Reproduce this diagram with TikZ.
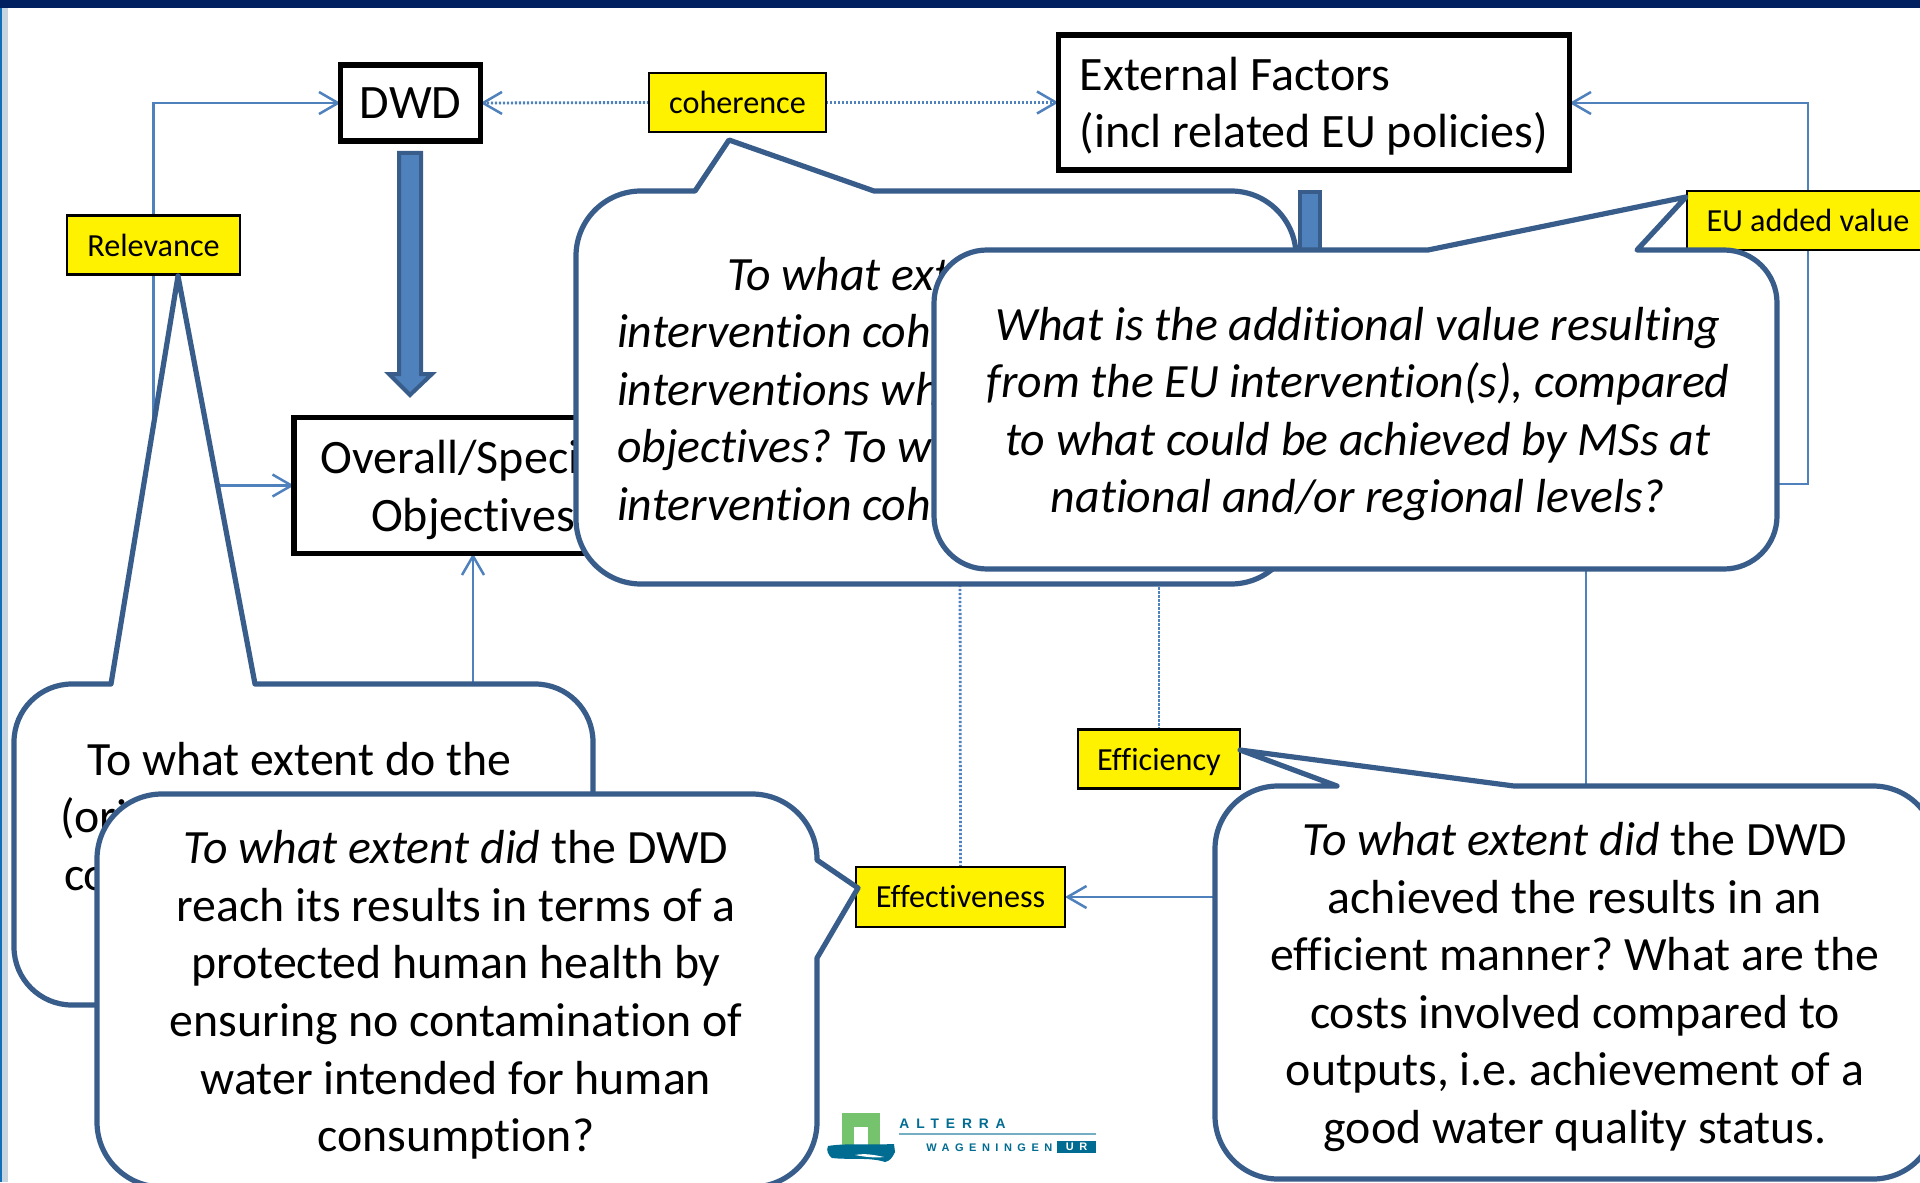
\documentclass[tikz,border=0pt]{standalone}
\usepackage{fontspec}
\setmainfont{Carlito}[Ligatures=NoCommon]
\newfontfamily\logofont[LetterSpace=50,Scale=1]{Liberation Sans}
\usetikzlibrary{arrows.meta}
\definecolor{topnavy}{HTML}{002060}
\definecolor{sidebar}{HTML}{0F6FB8}
\definecolor{sidepale}{HTML}{C6D4E0}
\definecolor{linkblue}{HTML}{4F81BD}
\definecolor{edgeblue}{HTML}{385D8A}
\definecolor{logoteal}{HTML}{006C91}
\definecolor{logogreen}{HTML}{76C36E}
\pgfdeclarelayer{bg}
\pgfsetlayers{bg,main}
\tikzset{
  box/.style={draw=black,line width=2.6pt,fill=white,inner sep=0pt,outer sep=0pt,font=\frenchspacing\fontsize{24}{28.8}\selectfont,align=center},
  tag/.style={draw=black,line width=1.4pt,fill=yellow,inner sep=0pt,outer sep=0pt,minimum height=29.5pt,font=\fontsize{16.1}{18}\selectfont},
  link/.style={draw=linkblue,line width=1.25pt},
  linka/.style={link,-{Straight Barb[length=9.5pt,width=11pt]}},
  dotlink/.style={draw=linkblue,line width=1.4pt,dash pattern=on 1.1pt off 0.9pt},
  dotlinka/.style={dotlink,-{Straight Barb[length=9.5pt,width=11pt,line width=1.25pt]}},
  fat/.style={draw=edgeblue,line width=2pt,fill=linkblue,line join=miter},
  bubble/.style={draw=edgeblue,line width=2.6pt,fill=white,line join=round},
  bubtext/.style={inner sep=0pt,outer sep=0pt,align=center,font=\frenchspacing\fontsize{23.9}{28.8}\selectfont},
  bubleft/.style={bubtext,align=left},
}
% #1 left #2 top #3 right #4 bottom #5 radius #6 top-side wedge #7 right-side wedge
\newcommand{\bubblepath}[7]{%
  \pgfmathsetmacro\bL{#1}\pgfmathsetmacro\bT{#2}\pgfmathsetmacro\bR{#3}\pgfmathsetmacro\bB{#4}%
  \pgfmathsetmacro\br{#5}\pgfmathsetmacro\bc{0.448*#5}%
  \draw[bubble] (\bL+\br,\bT) #6 -- (\bR-\br,\bT)
    .. controls (\bR-\bc,\bT) and (\bR,\bT+\bc) .. (\bR,\bT+\br) #7 -- (\bR,\bB-\br)
    .. controls (\bR,\bB-\bc) and (\bR-\bc,\bB) .. (\bR-\br,\bB) -- (\bL+\br,\bB)
    .. controls (\bL+\bc,\bB) and (\bL,\bB-\bc) .. (\bL,\bB-\br) -- (\bL,\bT+\br)
    .. controls (\bL,\bT+\bc) and (\bL+\bc,\bT) .. (\bL+\br,\bT) -- cycle;%
}
\begin{document}
\begin{tikzpicture}[x=0.5pt,y=-0.5pt]
\useasboundingbox (0,0) rectangle (1920,1182);

% named ends of connectors on the bubbles and behind them
\coordinate (bRelTop) at (473,684);
\coordinate (bEUright) at (1777,484);
\coordinate (bEUbottom) at (1586,569);
\coordinate (bEffTop) at (1586,786);
\coordinate (bEffLeft) at (1215,897);
\coordinate (hidA) at (960,560);
\coordinate (hidB) at (1159,560);

% boxes
\node[box,minimum width=70pt,minimum height=38pt] (dwd) at (410.5,103) {DWD};
\node[box,minimum width=179pt,minimum height=68pt] (objectives) at (473,485.5) {\rule{0pt}{21pt}Overall/Specific\\Objectives};
\node[box,minimum width=255.5pt,minimum height=67.5pt,align=left] (external) at (1314,102.5) {\rule{0pt}{20.5pt}External Factors\\(incl related EU policies)};

% yellow labels
\node[tag,minimum width=88.5pt] (coherence) at (737.5,102.5) {coherence};
\node[tag,minimum width=86.5pt] (relevance) at (153.5,245) {Relevance};
\node[tag,minimum width=121pt] (euvalue) at (1808,220.5) {EU added value};
\node[tag,minimum width=81pt] (efficiency) at (1159,759) {\rule{0pt}{14.5pt}Efficiency};
\node[tag,minimum width=104.5pt,minimum height=30pt] (effectiveness) at (960.5,897) {Effectiveness};

% connectors, under everything else
\begin{pgfonlayer}{bg}
\fill[white] (0,0) rectangle (1920,1182);
\draw[linka] (relevance.north) |- (dwd.west);
\draw[linka] (relevance.south) |- (objectives.west);
\draw[linka] (bRelTop) -- (objectives.south -| bRelTop);
\draw[dotlinka] (coherence.west) -- (dwd.east);
\draw[dotlinka] (coherence.east) -- (coherence.east -| external.west);
\draw[linka] (euvalue.north) |- (external.east |- dwd.east);
\draw[link] (bEUright) -| (euvalue.south);
\draw[link] (bEUbottom) -- (bEffTop);
\draw[linka] (bEffLeft) -- (effectiveness.east);
\draw[dotlink] (effectiveness.north) -- (hidA);
\draw[dotlink] (efficiency.north) -- (hidB);
\fill[sidepale] (2,0) rectangle (8,1182);
\fill[sidebar] (0,0) rectangle (2,1182);
\fill[topnavy] (0,0) rectangle (1920,8);
\end{pgfonlayer}

% thick arrows
\draw[fat] (399,153) -- (421,153) -- (421,374) -- (432,374) -- (410,395) -- (389,374) -- (399,374) -- cycle;
\draw[fat] (1300,192) -- (1320,192) -- (1320,560) -- (1300,560) -- cycle;

% relevance bubble
\bubblepath{14}{684}{593}{1005}{58}{-- (111,684) -- (178,276) -- (255,684)}{}
\node[bubleft,anchor=north west] (relevancetext) at (60,742) {\hspace*{13.5pt}To what extent do the\\(ori\\\hspace*{2pt}co};

% coherence bubble
\bubblepath{576}{191}{1296}{584}{65}{-- (695,191) -- (729,140) -- (874,191)}{}
\node[bubleft,anchor=north west] (coherencetext) at (617,257) {\hspace*{55pt}\textit{To what ext}\\\textit{intervention coh}\\\textit{interventions wh}\\\textit{objectives? To w}\\\textit{intervention coh}};

% EU added value bubble
\bubblepath{934}{250}{1777}{569}{53}{-- (1428,250) -- (1686,197) -- (1637,250)}{}
\node[bubtext] (euvaluetext) at (1358,414) {\textit{What is the additional value resulting}\\\textit{from the EU intervention(s), compared}\\\textit{to what could be achieved by MSs at}\\\textit{national and/or regional levels?}};

% effectiveness bubble
\bubblepath{97}{794}{817}{1187}{65}{}{-- (817,860) -- (858,888) -- (817,958)}
\node[bubtext] (effectivenesstext) at (456,995) {\textit{To what extent did} the DWD\\reach its results in terms of a\\protected human health by\\ensuring no contamination of\\water intended for human\\consumption?};

% efficiency bubble
\bubblepath{1215}{786}{1936}{1179}{63}{-- (1337,786) -- (1240,750) -- (1514,786)}{}
\node[bubtext] (efficiencytext) at (1575,987) {\textit{To what extent did} the DWD\\achieved the results in an\\efficient manner? What are the\\costs involved compared to\\outputs, i.e. achievement of a\\good water quality status.};

% logo
\fill[logogreen] (842,1113) rectangle (880,1147);
\fill[white] (854,1127) rectangle (868,1147);
\fill[logoteal] (828,1146) .. controls (845,1143) and (875,1145) .. (894,1144)
  -- (895,1152) .. controls (892,1158) and (890,1161) .. (885,1162)
  .. controls (870,1157) and (850,1160) .. (832,1158) .. controls (828,1155) and (826,1150) .. (828,1146) -- cycle;
\fill[white] (855,1155) .. controls (865,1153) and (875,1155) .. (884,1157) .. controls (875,1158) and (865,1157) .. (855,1155) -- cycle;
\node[anchor=base west,inner sep=0pt,text=logoteal,font=\logofont\bfseries\fontsize{6.9}{8}\selectfont] (alterra) at (899,1128) {ALTERRA};
\draw[logoteal!55,line width=0.6pt] (899,1134) -- (1096,1134);
\node[anchor=base west,inner sep=0pt,text=logoteal,font=\logofont\bfseries\fontsize{5.5}{7}\selectfont] (wageningen) at (926,1151) {WAGENINGEN};
\node[fill=logoteal,text=white,inner sep=0pt,minimum width=19.5pt,minimum height=6pt,font=\logofont\bfseries\fontsize{5.5}{6}\selectfont] (ur) at (1076.5,1147) {UR};
\end{tikzpicture}
\end{document}
